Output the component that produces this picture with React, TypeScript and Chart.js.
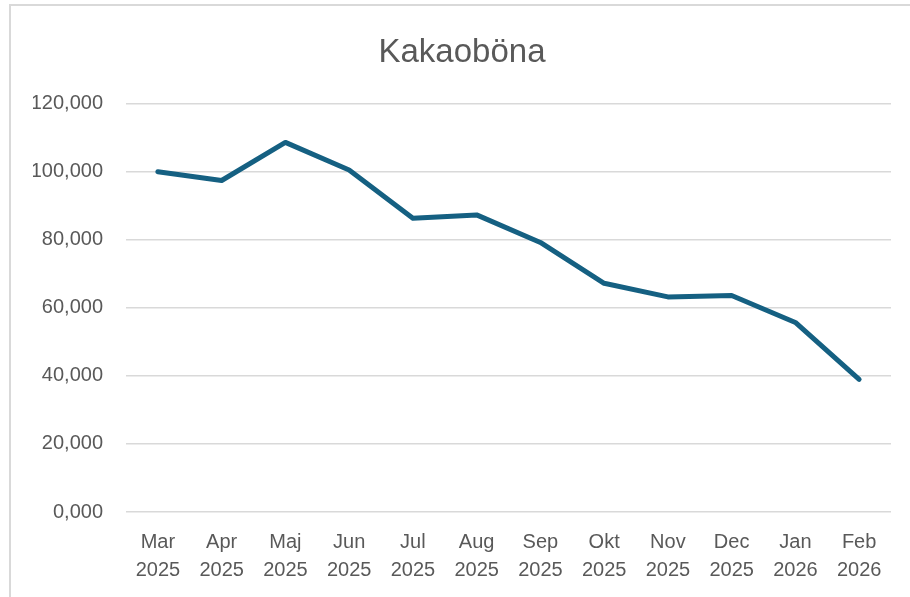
import React, { useEffect, useRef } from "react";
import { Chart, registerables } from "chart.js";

Chart.register(...registerables);

const title = "Kakaoböna";
const months = ["Mar", "Apr", "Maj", "Jun", "Jul", "Aug", "Sep", "Okt", "Nov", "Dec", "Jan", "Feb"];
const years = ["2025", "2025", "2025", "2025", "2025", "2025", "2025", "2025", "2025", "2025", "2026", "2026"];
const values = [100.0, 97.4, 108.6, 100.5, 86.3, 87.3, 79.2, 67.2, 63.2, 63.6, 55.7, 39.0];
const yMin = 0;
const yMax = 120;
const yStep = 20;

const FONT = "'Liberation Sans', Arial, sans-serif";
const TEXT = "#595959";

export default function App() {
  const ref = useRef<HTMLCanvasElement | null>(null);

  useEffect(() => {
    if (!ref.current) return;
    const labels = months.map((m, i) => [m, years[i]]);
    const chart = new Chart(ref.current, {
      type: "line",
      data: {
        labels,
        datasets: [
          {
            data: values,
            borderColor: "#156082",
            backgroundColor: "#156082",
            borderWidth: 5,
            pointRadius: 0,
            tension: 0,
            borderCapStyle: "round",
            borderJoinStyle: "round",
          },
        ],
      },
      options: {
        animation: false,
        responsive: false,
        maintainAspectRatio: false,
        layout: { padding: { top: 0, left: 33, right: 19, bottom: 0 } },
        plugins: {
          legend: { display: false },
          tooltip: { enabled: false },
          title: {
            display: true,
            text: title,
            color: TEXT,
            font: { family: FONT, size: 33, weight: "normal" },
            padding: { top: 33, bottom: 31 },
          },
        },
        scales: {
          x: {
            offset: true,
            grid: { display: false, drawTicks: false },
            border: { display: false },
            ticks: {
              color: TEXT,
              font: { family: FONT, size: 20, lineHeight: 1.4 },
              padding: 16,
              maxRotation: 0,
              autoSkip: false,
            },
            afterFit: (s: any) => {
              s.height = 85;
            },
          },
          y: {
            min: yMin,
            max: yMax,
            grid: { color: "#d9d9d9", lineWidth: 1.5, drawTicks: false },
            border: { display: false },
            ticks: {
              stepSize: yStep,
              color: TEXT,
              font: { family: FONT, size: 20 },
              padding: 23,
              callback: (v: any) => Number(v).toFixed(3).replace(".", ","),
            },
            afterFit: (s: any) => {
              s.width = 93;
            },
          },
        },
      },
    });
    return () => chart.destroy();
  }, []);

  return (
    <div style={{ position: "absolute", left: 0, top: 0, width: 910, height: 597, background: "#fff" }}>
      <canvas ref={ref} width={910} height={597} style={{ display: "block" }} />
      <div
        style={{
          position: "absolute",
          left: 9,
          top: 4,
          width: 910,
          height: 600,
          borderTop: "2px solid #d9d9d9",
          borderLeft: "2px solid #d9d9d9",
          pointerEvents: "none",
        }}
      />
    </div>
  );
}
